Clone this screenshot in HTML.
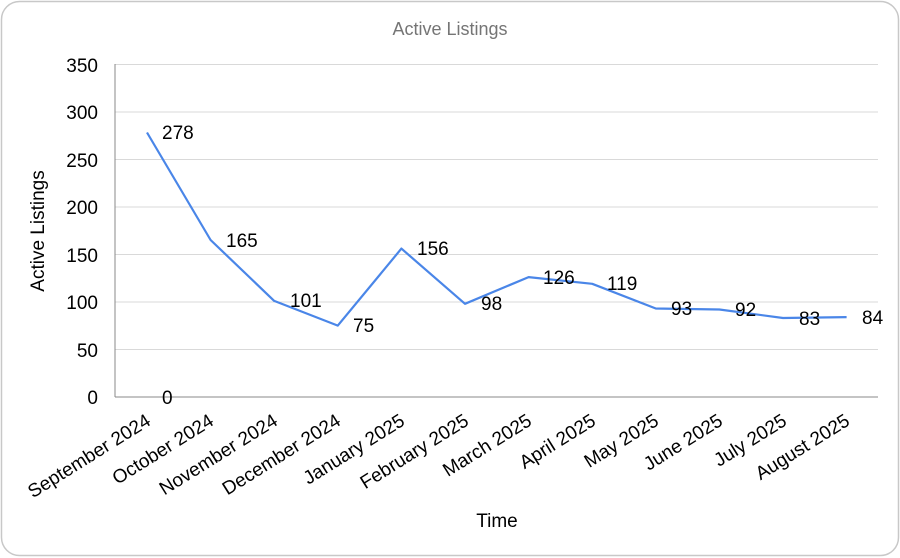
<!DOCTYPE html>
<html><head><meta charset="utf-8"><style>
body{margin:0;background:#fff;}
svg{display:block;font-family:"Liberation Sans",Arial,sans-serif;}
</style></head><body>
<svg width="900" height="558" viewBox="0 0 900 558">
<rect x="1.5" y="1.5" width="897" height="554" rx="18" fill="#fff" stroke="#c8c8c8" stroke-width="1.5"/>
<text x="450" y="35" text-anchor="middle" font-size="18" fill="#757575">Active Listings</text>
<g stroke="#d9d9d9" stroke-width="1">
<line x1="115" x2="878" y1="64.5" y2="64.5"/><line x1="115" x2="878" y1="112" y2="112"/><line x1="115" x2="878" y1="159.5" y2="159.5"/><line x1="115" x2="878" y1="207" y2="207"/><line x1="115" x2="878" y1="254.5" y2="254.5"/><line x1="115" x2="878" y1="302" y2="302"/><line x1="115" x2="878" y1="349.5" y2="349.5"/>
</g>
<line x1="115" x2="115" y1="64" y2="397" stroke="#888"/>
<line x1="115" x2="878" y1="397" y2="397" stroke="#888"/>
<g font-size="19" text-anchor="end" fill="#000">
<text x="98" y="72">350</text><text x="98" y="119">300</text><text x="98" y="167">250</text><text x="98" y="214">200</text><text x="98" y="262">150</text><text x="98" y="309">100</text><text x="98" y="357">50</text><text x="98" y="404">0</text>
</g>
<text transform="translate(44,231) rotate(-90)" text-anchor="middle" font-size="19">Active Listings</text>
<text x="497" y="527" text-anchor="middle" font-size="19">Time</text>
<polyline fill="none" stroke="#4a86e8" stroke-width="2.2" stroke-linejoin="round" points="147,132.5 210.6,240 274.2,300.9 337.8,325.6 401.4,248.6 465,303.8 528.6,277.1 592.2,283.8 655.8,308.5 719.4,309.5 783,318 846.6,317.1"/>
<g font-size="19">
<text x="162" y="139">278</text><text x="226" y="247">165</text><text x="290" y="307">101</text><text x="353" y="332">75</text><text x="417" y="255">156</text><text x="481" y="310">98</text><text x="543" y="284">126</text><text x="607" y="290">119</text><text x="671" y="315">93</text><text x="735" y="316">92</text><text x="799" y="325">83</text><text x="862" y="324">84</text>
<text x="162" y="404">0</text>
</g>
<g font-size="19" text-anchor="end">
<text transform="translate(152,424) rotate(-32)">September 2024</text>
<text transform="translate(215,424) rotate(-32)">October 2024</text>
<text transform="translate(279,424) rotate(-32)">November 2024</text>
<text transform="translate(342,424) rotate(-32)">December 2024</text>
<text transform="translate(406,424) rotate(-32)">January 2025</text>
<text transform="translate(470,424) rotate(-32)">February 2025</text>
<text transform="translate(533,424) rotate(-32)">March 2025</text>
<text transform="translate(597,424) rotate(-32)">April 2025</text>
<text transform="translate(660,424) rotate(-32)">May 2025</text>
<text transform="translate(724,424) rotate(-32)">June 2025</text>
<text transform="translate(788,424) rotate(-32)">July 2025</text>
<text transform="translate(851,424) rotate(-32)">August 2025</text>
</g>
</svg>
</body></html>
